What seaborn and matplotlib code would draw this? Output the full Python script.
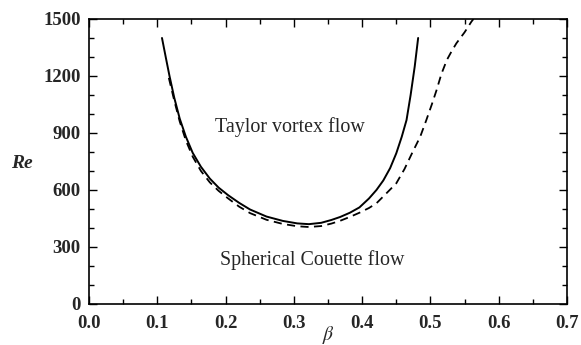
import numpy as np
import pandas as pd
import matplotlib
matplotlib.use("Agg")
import matplotlib.pyplot as plt
import seaborn as sns
from matplotlib.ticker import MultipleLocator

# Solid curve (beta, Re)
solid_beta = [0.107, 0.113, 0.118, 0.125, 0.133, 0.142, 0.152, 0.164, 0.177, 0.190, 0.204, 0.220,
              0.236, 0.260, 0.284, 0.305, 0.322, 0.340, 0.355, 0.368, 0.382, 0.396, 0.410, 0.421,
              0.431, 0.441, 0.450, 0.458, 0.465, 0.471, 0.477, 0.482]
solid_re = [1400, 1290, 1200, 1085, 975, 880, 795, 722, 660, 612, 572, 532,
            497, 460, 437, 424, 420, 427, 442, 458, 480, 508, 555, 600,
            650, 715, 793, 880, 968, 1100, 1250, 1400]

# Dashed curve (beta, Re)
dash_beta = [0.117, 0.125, 0.133, 0.142, 0.152, 0.164, 0.177, 0.190, 0.204, 0.220, 0.236, 0.260,
             0.284, 0.305, 0.322, 0.340, 0.355, 0.368, 0.382, 0.396, 0.410, 0.421, 0.436, 0.450,
             0.462, 0.473, 0.485, 0.494, 0.502, 0.509, 0.516, 0.524, 0.531, 0.538, 0.550, 0.560, 0.563]
dash_re = [1190, 1070, 960, 860, 775, 700, 640, 595, 555, 512, 478, 443,
           421, 409, 405, 410, 423, 438, 458, 480, 505, 530, 584, 635,
           710, 793, 880, 968, 1050, 1126, 1210, 1284, 1330, 1372, 1430, 1486, 1500]

xticks = [0.0, 0.1, 0.2, 0.3, 0.4, 0.5, 0.6, 0.7]
yticks = [0, 300, 600, 900, 1200, 1500]

sns.set_theme(style="ticks")
plt.rcParams['font.family'] = ['Liberation Serif', 'DejaVu Serif']
plt.rcParams['mathtext.fontset'] = 'stix'

fig = plt.figure(figsize=(5.81, 3.45), dpi=100)
ax = fig.add_axes([0.153, 0.119, 0.823, 0.826])

df_s = pd.DataFrame({"beta": solid_beta, "Re": solid_re})
df_d = pd.DataFrame({"beta": dash_beta, "Re": dash_re})
sns.lineplot(data=df_s, x="beta", y="Re", sort=False, ax=ax, color="black", lw=1.4)
sns.lineplot(data=df_d, x="beta", y="Re", sort=False, ax=ax, color="black", lw=1.3,
             linestyle=(0, (4.5, 3)))

ax.set_xlim(0, 0.7)
ax.set_ylim(0, 1500)
ax.set_xticks(xticks)
ax.set_yticks(yticks)
ax.set_xticklabels([f"{v:.1f}" for v in xticks], fontsize=13.5, fontweight="bold")
ax.set_yticklabels([str(v) for v in yticks], fontsize=13.5, fontweight="bold")
ax.xaxis.set_minor_locator(MultipleLocator(0.05))
ax.yaxis.set_minor_locator(MultipleLocator(100))
ax.tick_params(which="both", direction="in", top=True, right=True, color="black", width=1)
ax.tick_params(which="major", length=6)
ax.tick_params(axis="x", which="major", pad=8)
ax.tick_params(axis="y", which="major", pad=6)
ax.tick_params(which="minor", length=3.5)
for s in ax.spines.values():
    s.set_linewidth(1.2)
    s.set_color("black")

ax.set_xlabel(r"$\beta$", fontsize=14, labelpad=-6)
ax.set_ylabel("Re", fontsize=14, style="italic", fontweight="bold", rotation=0, va="center", ha="center")
ax.yaxis.set_label_coords(-0.14, 0.492)

ax.text(0.294, 932, "Taylor vortex flow", fontsize=14.4, ha="center", va="center")
ax.text(0.327, 232, "Spherical Couette flow", fontsize=14.4, ha="center", va="center")

fig.savefig("out.png", dpi=100)
